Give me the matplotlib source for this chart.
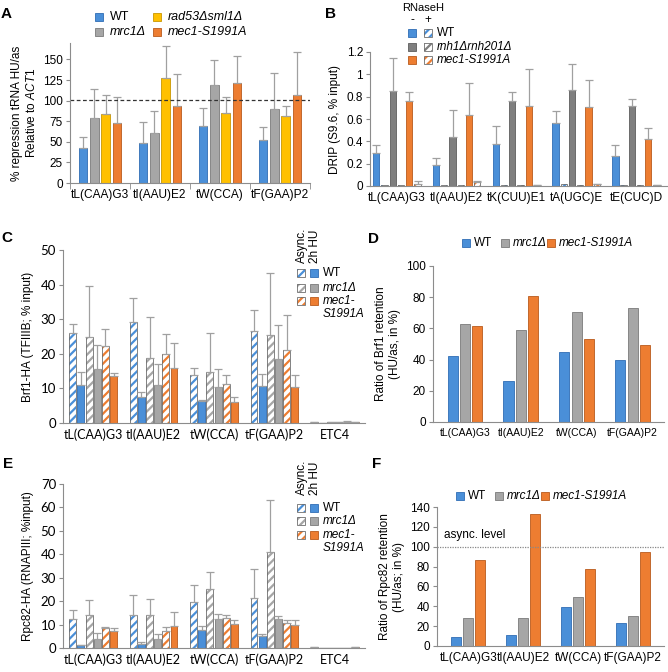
import matplotlib
matplotlib.use("Agg")
import matplotlib.pyplot as plt
import numpy as np
from matplotlib.patches import Rectangle

W, H = 668, 672

BLUE = "#4A8FD8"
GRAY = "#A6A6A6"
DGRAY = "#7F7F7F"
YELLOW = "#FFC000"
ORANGE = "#ED7D31"
ERR = "#A0A0A0"
SPINE = "#8C8C8C"
EDGE = {BLUE: "#2F6DB5", GRAY: "#7A7A7A", DGRAY: "#5E5E5E", YELLOW: "#C99700", ORANGE: "#B95A1C"}

# --- A: % repression tRNA -------------------------------------------------
a_genes = ["tL(CAA)G3", "tI(AAU)E2", "tW(CCA)", "tF(GAA)P2"]
a_wt = [42, 48, 69, 52]
a_wt_err = [14, 26, 22, 16]
a_mrc = [79, 61, 119, 90]
a_mrc_err = [35, 26, 30, 43]
a_rad = [84, 127, 85, 81]
a_rad_err = [23, 39, 19, 13]
a_mec = [73, 94, 122, 107]
a_mec_err = [31, 38, 32, 52]

# --- B: DRIP ---------------------------------------------------------------
b_genes = ["tL(CAA)G3", "tI(AAU)E2", "tK(CUU)E1", "tA(UGC)E", "tE(CUC)D"]
b_wt = [0.30, 0.19, 0.38, 0.56, 0.27]
b_wt_err = [0.07, 0.06, 0.16, 0.11, 0.10]
b_wt_rh = [0.010, 0.005, 0.010, 0.015, 0.005]
b_rnh = [0.85, 0.44, 0.76, 0.86, 0.72]
b_rnh_err = [0.30, 0.24, 0.08, 0.23, 0.06]
b_rnh_rh = [0.010, 0.005, 0.010, 0.010, 0.005]
b_mec = [0.76, 0.64, 0.72, 0.71, 0.42]
b_mec_err = [0.08, 0.28, 0.33, 0.24, 0.10]
b_mec_rh = [0.020, 0.040, 0.010, 0.015, 0.005]
b_mec_rh_err = [0.025, 0.005, 0.0, 0.0, 0.0]

# --- C: Brf1-HA ChIP -------------------------------------------------------
ce_genes = ["tL(CAA)G3", "tI(AAU)E2", "tW(CCA)", "tF(GAA)P2", "ETC4"]
c_wt_as = [26.0, 29.2, 14.0, 26.5, 0.2]
c_wt_as_err = [2.6, 7.0, 1.9, 6.3, 0.0]
c_wt_hu = [11.0, 7.5, 6.3, 10.6, 0.1]
c_wt_hu_err = [3.8, 1.5, 0.4, 3.6, 0.0]
c_mrc_as = [24.8, 18.8, 14.8, 25.4, 0.2]
c_mrc_as_err = [14.7, 11.8, 11.1, 17.9, 0.0]
c_mrc_hu = [15.7, 11.0, 10.5, 18.5, 0.3]
c_mrc_hu_err = [6.9, 6.1, 5.2, 9.8, 0.1]
c_mec_as = [22.3, 19.8, 11.3, 21.0, 0.4]
c_mec_as_err = [4.9, 5.9, 2.5, 10.3, 0.1]
c_mec_hu = [13.7, 15.9, 6.0, 10.3, 0.2]
c_mec_hu_err = [0.7, 7.1, 1.6, 3.6, 0.0]

# --- D: Brf1 retention ratio ----------------------------------------------
df_genes = ["tL(CAA)G3", "tI(AAU)E2", "tW(CCA)", "tF(GAA)P2"]
d_wt = [42, 26, 45, 40]
d_mrc = [63, 59, 70.5, 73]
d_mec = [61.5, 80.5, 53, 49.5]

# --- E: Rpc82-HA ChIP ------------------------------------------------------
e_wt_as = [12.5, 14.0, 19.5, 21.3, 0.3]
e_wt_as_err = [3.7, 8.7, 7.5, 12.4, 0.0]
e_wt_hu = [1.2, 1.6, 7.6, 5.0, 0.1]
e_wt_hu_err = [0.2, 0.8, 1.7, 1.0, 0.0]
e_mrc_as = [14.0, 14.2, 25.2, 40.8, 0.2]
e_mrc_as_err = [6.4, 6.7, 7.1, 22.4, 0.0]
e_mrc_hu = [3.8, 4.0, 12.4, 12.4, 0.2]
e_mrc_hu_err = [2.8, 1.9, 2.3, 1.4, 0.0]
e_mec_as = [8.4, 7.1, 13.0, 10.7, 0.2]
e_mec_as_err = [0.7, 1.9, 1.2, 1.2, 0.0]
e_mec_hu = [7.3, 9.3, 10.3, 10.0, 0.3]
e_mec_hu_err = [1.4, 6.0, 1.5, 1.9, 0.0]

# --- F: Rpc82 retention ratio ---------------------------------------------
f_wt = [9, 11, 39, 23.5]
f_mrc = [28, 28.5, 49, 30.5]
f_mec = [87, 133, 78, 95]

plt.rcParams.update({
    "font.family": "Liberation Sans",
    "mathtext.fontset": "custom",
    "mathtext.rm": "Liberation Sans",
    "mathtext.it": "Liberation Sans:italic",
    "hatch.linewidth": 1.6,
    "axes.linewidth": 0.8,
})

fig = plt.figure(figsize=(W / 100, H / 100), dpi=100)


def px_axes(x0, y0, x1, y1):
    return fig.add_axes([x0 / W, 1 - y1 / H, (x1 - x0) / W, (y1 - y0) / H])


def style(ax, tick_font=None, xsize=8.5, ysize=8.5):
    for s in ("top", "right"):
        ax.spines[s].set_visible(False)
    for s in ("left", "bottom"):
        ax.spines[s].set_color(SPINE)
    ax.tick_params(axis="y", length=3, color=SPINE, labelsize=ysize, pad=2)
    ax.tick_params(axis="x", length=0, labelsize=xsize, pad=4)
    if tick_font:
        for t in ax.get_xticklabels() + ax.get_yticklabels():
            t.set_family(tick_font)


def draw(ax, x, vals, width, color, err=None, hatch=None, outline="#6E6E6E"):
    if hatch:
        ax.bar(x, vals, width, color="white", edgecolor=color, hatch=hatch, lw=0)
        ax.bar(x, vals, width, fill=False, edgecolor=outline, lw=0.6)
    else:
        ax.bar(x, vals, width, color=color, edgecolor=EDGE[color], lw=0.6)
    if err is not None:
        ax.errorbar(x, vals, yerr=[np.zeros(len(vals)), err], fmt="none", ecolor=ERR,
                    elinewidth=0.9, capsize=3, capthick=0.9)


def swatch(cx, cy, color, hatch=None, size=8):
    xy = ((cx - size / 2) / W, 1 - (cy + size / 2) / H)
    if hatch:
        fig.add_artist(Rectangle(xy, size / W, size / H, transform=fig.transFigure,
                                 facecolor="white", edgecolor=color, hatch=hatch, lw=0))
        fig.add_artist(Rectangle(xy, size / W, size / H, transform=fig.transFigure,
                                 fill=False, edgecolor="#6E6E6E", lw=0.6))
    else:
        fig.add_artist(Rectangle(xy, size / W, size / H, transform=fig.transFigure,
                                 facecolor=color, edgecolor=EDGE[color], lw=0.6))


def ftext(x, y, s, size=8.5, **kw):
    kw.setdefault("va", "center")
    kw.setdefault("weight", "normal")
    fig.text(x / W, 1 - y / H, s, fontsize=size, **kw)


# Panel A
ax = px_axes(70, 43, 310, 183)
x = np.arange(len(a_genes))
pitch, w = 0.19, 0.145
for i, (v, e, c) in enumerate([(a_wt, a_wt_err, BLUE), (a_mrc, a_mrc_err, GRAY),
                               (a_rad, a_rad_err, YELLOW), (a_mec, a_mec_err, ORANGE)]):
    draw(ax, x + (i - 1.5) * pitch, v, w, c, err=e)
ax.axhline(101, color="#333333", ls=(0, (3, 2)), lw=0.9)
ax.set_xlim(-0.5, 3.5)
ax.set_ylim(0, 170)
ax.set_yticks(np.arange(0, 151, 25))
ax.set_xticks(x, a_genes)
ax.set_xticks(np.arange(-0.5, 4, 1), minor=True)
style(ax, xsize=8.6)
ax.tick_params(axis="x", which="minor", length=4, color=SPINE)
ax.set_ylabel("% repression tRNA HU/as\nRelative to $\\mathit{ACT1}$", fontsize=8.5, labelpad=4)

swatch(99, 17, BLUE); ftext(110, 17, "WT", 9)
swatch(99, 32, GRAY); ftext(110, 32, "mrc1Δ", 9, style="italic")
swatch(157, 17, YELLOW); ftext(168, 17, "rad53Δsml1Δ", 9, style="italic")
swatch(157, 32, ORANGE); ftext(168, 32, "mec1-S1991A", 9, style="italic")

# Panel B
ax = px_axes(370, 52, 667, 186)
x = np.arange(len(b_genes))
pitch, w = 0.138, 0.107
series = [(b_wt, b_wt_err, BLUE, None), (b_wt_rh, None, BLUE, "////"),
          (b_rnh, b_rnh_err, DGRAY, None), (b_rnh_rh, None, DGRAY, "////"),
          (b_mec, b_mec_err, ORANGE, None), (b_mec_rh, b_mec_rh_err, ORANGE, "////")]
for i, (v, e, c, h) in enumerate(series):
    draw(ax, x + (i - 2.5) * pitch, v, w, c, err=e, hatch=h)
ax.set_xlim(-0.45, 4.52)
ax.set_ylim(0, 1.2)
ax.set_yticks([0, 0.2, 0.4, 0.6, 0.8, 1, 1.2], ["0", "0.2", "0.4", "0.6", "0.8", "1", "1.2"])
ax.set_xticks(x, b_genes)
style(ax)
ax.set_ylabel("DRIP (S9.6, % input)", fontsize=8.5, labelpad=4)

ftext(402, 8, "RNaseH", 8, ha="left")
ftext(412, 20, "-", 8.5, ha="center")
ftext(428, 20, "+", 8.5, ha="center")
for cy, c, lab in [(33, BLUE, "WT"), (47, DGRAY, "rnh1Δrnh201Δ"), (60, ORANGE, "mec1-S1991A")]:
    swatch(412, cy, c)
    swatch(428, cy, c, hatch="////")
    ftext(437, cy, lab, 8.5, style="normal" if lab == "WT" else "italic")


def chip_panel(y0, y1, vals, ymax, ylabel, leg_y):
    ax = px_axes(63, y0, 365, y1)
    x = np.arange(len(ce_genes))
    pitch, w = 0.135, 0.115
    for i, (v, e, c, h) in enumerate(vals):
        draw(ax, x + (i - 2.5) * pitch, v, w, c, err=e, hatch=h)
    ax.set_xlim(-0.5, 4.5)
    ax.set_ylim(0, ymax)
    ax.set_yticks(np.arange(0, ymax + 1, 10))
    ax.set_xticks(x, ce_genes)
    style(ax, tick_font="Lato", xsize=9, ysize=9.5)
    ax.set_ylabel(ylabel, fontsize=8.5, labelpad=5)
    ty, rows = leg_y
    ftext(302, ty, "Async.", 8.5, rotation=90, ha="center", va="bottom")
    ftext(315, ty, "2h HU", 8.5, rotation=90, ha="center", va="bottom")
    for cy, c, lab in zip(rows, [BLUE, GRAY, ORANGE], ["WT", "mrc1Δ", "mec1-"]):
        swatch(301, cy, c, hatch="////")
        swatch(314, cy, c)
        ftext(323, cy, lab, 8.5, style="normal" if lab == "WT" else "italic")
    ftext(323, rows[2] + 13, "S1991A", 8.5, style="italic")


chip_panel(250, 423,
           [(c_wt_as, c_wt_as_err, BLUE, "////"), (c_wt_hu, c_wt_hu_err, BLUE, None),
            (c_mrc_as, c_mrc_as_err, GRAY, "////"), (c_mrc_hu, c_mrc_hu_err, GRAY, None),
            (c_mec_as, c_mec_as_err, ORANGE, "////"), (c_mec_hu, c_mec_hu_err, ORANGE, None)],
           50, "Brf1-HA (TFIIIB; % input)", (263, [273, 288, 301]))

chip_panel(484, 648,
           [(e_wt_as, e_wt_as_err, BLUE, "////"), (e_wt_hu, e_wt_hu_err, BLUE, None),
            (e_mrc_as, e_mrc_as_err, GRAY, "////"), (e_mrc_hu, e_mrc_hu_err, GRAY, None),
            (e_mec_as, e_mec_as_err, ORANGE, "////"), (e_mec_hu, e_mec_hu_err, ORANGE, None)],
           70, "Rpc82-HA (RNAPIII; %input)", (495, [508, 521, 535]))


def ratio_panel(x0, y0, x1, y1, vals, ymax, step, ylabel, xsize, leg_y, leg_x):
    ax = px_axes(x0, y0, x1, y1)
    x = np.arange(len(df_genes))
    pitch, w = 0.22, 0.18
    for i, (v, c) in enumerate(zip(vals, [BLUE, GRAY, ORANGE])):
        draw(ax, x + (i - 1) * pitch, v, w, c)
    ax.set_xlim(-0.57, 3.56)
    ax.set_ylim(0, ymax)
    ax.set_yticks(np.arange(0, ymax + 1, step))
    ax.set_xticks(x, df_genes)
    style(ax, xsize=xsize, ysize=8.5)
    ax.set_ylabel(ylabel, fontsize=8.5, labelpad=4)
    for cx, c, lab in zip(leg_x, [BLUE, GRAY, ORANGE], ["WT", "mrc1Δ", "mec1-S1991A"]):
        swatch(cx, leg_y, c)
        ftext(cx + 8, leg_y, lab, 8.5, style="normal" if lab == "WT" else "italic")
    return ax


ratio_panel(433, 266, 664, 422, [d_wt, d_mrc, d_mec], 100, 20,
            "Ratio of Brf1 retention\n(HU/as, in %)", 7.5, 243, [465.5, 505, 551])
ax = ratio_panel(437, 507, 664, 646, [f_wt, f_mrc, f_mec], 140, 20,
                 "Ratio of Rpc82 retention\n(HU/as; in %)", 8.5, 496, [460, 499, 545])
ax.axhline(100, color="#888888", ls=(0, (1, 1)), lw=0.9)
ax.text(-0.45, 106, "async. level", fontsize=8.5, va="bottom")

# Panel letters
for lab, (px, py) in {"A": (1, 7), "B": (325, 7), "C": (1, 231), "D": (368, 232),
                      "E": (3, 457), "F": (372, 457)}.items():
    ftext(px, py, lab, 11, weight="bold", va="top")

fig.savefig("out.png", dpi=100)
